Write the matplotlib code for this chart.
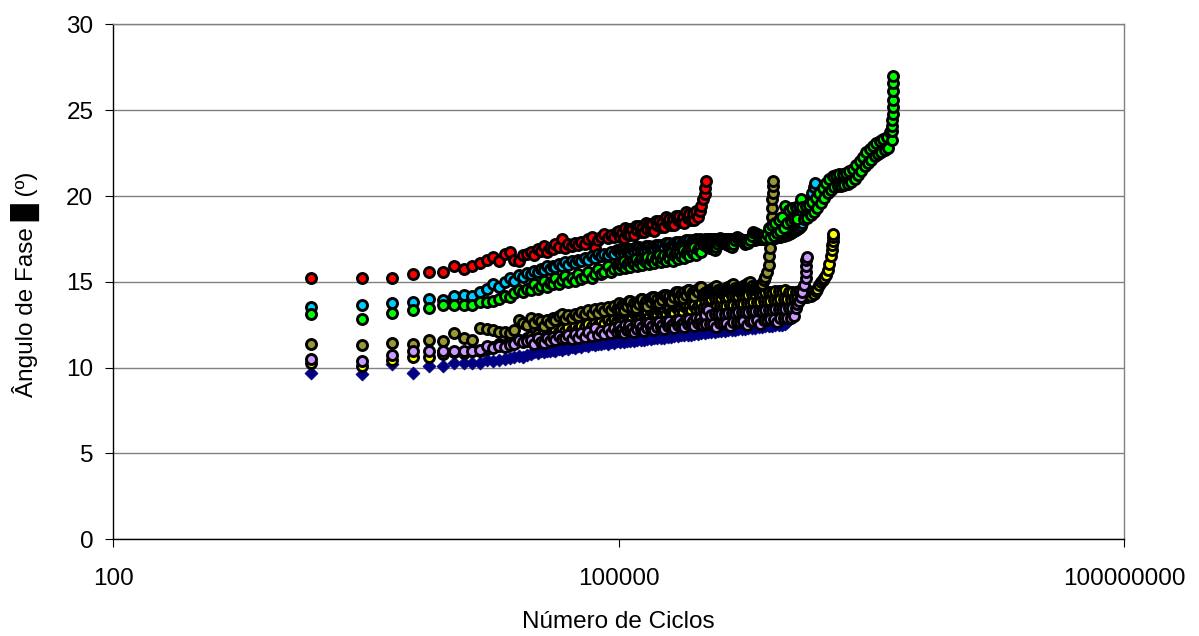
import matplotlib
matplotlib.use("Agg")
import matplotlib.pyplot as plt

plt.rcParams['font.family'] = ['Liberation Sans', 'DejaVu Sans']

# Cycle counts at which the phase angle was sampled (shared by all series)
cycles = [
    1500, 3000, 4500, 6000, 7500, 9000, 10500, 12000, 13500, 15000,
    16500, 18000, 19500, 21000, 22500, 24000, 25500, 27000, 28500,
    30000, 31500, 33000, 34500, 36000, 37500, 39000, 40500, 42000, 44000,
    46000, 48000, 50000, 52500, 55000, 57500, 60000, 63000, 66000, 69000,
    72000, 75000, 78000, 82000, 86000, 90000, 94000, 98000,
    100000, 102300, 104700, 107200, 109600, 112200, 114800, 117500, 120200, 123000,
    125900, 128800, 131800, 134900, 138000, 141300, 144500, 147900, 151400, 154900,
    158500, 162200, 166000, 169800, 173800, 177800, 182000, 186200, 190500, 195000,
    199500, 204200, 208900, 213800, 218800, 223900, 229100, 234400, 239900, 245500,
    251200, 257000, 263000, 269200, 275400, 281800, 288400, 295100, 302000, 309000,
    316200, 323600, 331100, 338800, 346700, 354800, 363100, 371500, 380200, 389000,
    398100, 407400, 416900, 426600, 436500, 446700, 457100, 467700, 478600, 489800,
    501200, 512900, 524800, 537000, 549500, 562300, 575400, 588800, 602600, 616600,
    631000, 645700, 660700, 676100, 691800, 707900, 724400, 741300, 758600, 776200,
    794300, 812800, 831800, 851100, 871000, 891300, 912000, 933300, 955000, 977200,
    1000000, 1023000, 1047000, 1072000, 1096000, 1122000, 1148000, 1175000, 1202000, 1230000,
    1259000, 1288000, 1318000, 1349000, 1380000, 1413000, 1445000, 1479000, 1514000, 1549000,
    1585000, 1622000, 1660000, 1698000, 1738000, 1778000, 1820000, 1862000, 1905000, 1950000,
    1995000, 2042000, 2089000, 2138000, 2188000, 2239000, 2291000, 2344000, 2399000, 2455000,
    2512000, 2570000, 2630000, 2692000, 2754000, 2818000, 2884000, 2951000, 3020000, 3090000,
    3162000, 3236000, 3311000, 3388000, 3467000, 3548000, 3631000, 3715000, 3802000, 3890000,
    3981000, 4074000, 4169000,
]

# Phase angle (degrees) per specimen, following the shared cycle grid
navy_phase = [
    9.7, 9.65, 10.2, 9.7, 10.1, 10.1, 10.25, 10.3, 10.25, 10.3,
    10.45, 10.4, 10.45, 10.5, 10.55, 10.6, 10.7, 10.65, 10.75,
    10.8, 10.9, 10.85, 10.95, 10.9, 11.0, 10.95, 11.05, 11.0, 11.1,
    11.05, 11.15, 11.1, 11.2, 11.15, 11.25, 11.2, 11.3, 11.25, 11.35,
    11.3, 11.4, 11.35, 11.45, 11.4, 11.5, 11.45, 11.55,
    11.63, 11.5, 11.61, 11.5, 11.67, 11.54, 11.65, 11.54, 11.71, 11.58,
    11.7, 11.59, 11.76, 11.63, 11.74, 11.63, 11.8, 11.67, 11.78, 11.67,
    11.84, 11.71, 11.82, 11.71, 11.88, 11.75, 11.86, 11.75, 11.92, 11.79,
    11.91, 11.8, 11.97, 11.84, 11.95, 11.84, 12.01, 11.88, 11.99, 11.88,
    12.05, 11.92, 12.03, 11.92, 12.09, 11.96, 12.07, 11.96, 12.13, 12.0,
    12.13, 12.03, 12.18, 12.05, 12.2, 12.07, 12.23, 12.09, 12.26, 12.11,
    12.26, 12.13, 12.28, 12.15, 12.3, 12.17, 12.32, 12.19, 12.34, 12.21,
    12.37, 12.24, 12.38, 12.26, 12.41, 12.28, 12.42, 12.3, 12.45, 12.32,
    12.47, 12.34, 12.49, 12.36, 12.51, 12.38, 12.53, 12.4, 12.55, 12.42,
    12.57, 12.44, 12.59, 12.46, 12.61, 12.48, 12.63, 12.5, 12.65, 12.52,
    12.68,
]

yellow_phase = [
    10.3, 10.1, 10.45, 10.65, 10.65, 10.8, 10.9, 10.85, 10.95, 10.95,
    11.1, 11.2, 11.35, 11.3, 11.5, 11.45, 11.6, 11.55, 11.7,
    11.85, 11.7, 11.95, 11.85, 12.05, 11.9, 12.1, 12.0, 12.2, 12.05,
    12.25, 12.15, 12.35, 12.2, 12.4, 12.25, 12.45, 12.35, 12.55, 12.4,
    12.6, 12.5, 12.7, 12.55, 12.75, 12.65, 12.85, 12.7,
    13.02, 12.82, 12.98, 12.8, 13.11, 13.1, 12.89, 13.06, 12.87, 13.19,
    13.17, 12.96, 13.12, 12.93, 13.24, 13.22, 13.01, 13.17, 12.98, 13.29,
    13.27, 13.07, 13.23, 13.05, 13.36, 13.35, 13.14, 13.31, 13.12, 13.44,
    13.42, 13.22, 13.38, 13.2, 13.51, 13.5, 13.29, 13.46, 13.27, 13.59,
    13.57, 13.37, 13.53, 13.35, 13.66, 13.65, 13.44, 13.61, 13.42, 13.74,
    13.45, 13.96, 13.47, 13.98, 13.5, 14.01, 13.52, 14.03, 13.54, 14.05,
    13.57, 14.08, 13.59, 14.1, 13.61, 14.12, 13.63, 14.15, 13.66, 14.17,
    13.68, 14.19, 13.7, 14.21, 13.73, 14.24, 13.75, 14.26, 13.77, 14.28,
    13.8, 14.31, 13.82, 14.33, 13.84, 14.35, 13.86, 14.38, 13.89, 14.4,
    13.91, 14.42, 13.93, 14.44, 13.96, 14.47, 13.98, 14.49, 14.0, 14.51,
    14.0, 14.4, 14.02, 14.42, 14.04, 14.43, 14.06, 14.44, 14.08, 14.45,
    14.1, 14.45, 14.12, 14.45, 14.15, 14.4, 14.3, 14.45, 14.6, 14.8,
    15.0, 15.1, 15.25, 15.4, 15.7, 16.05, 16.5,
]
yellow_end_cycles = [1840000, 1852000, 1862000, 1870000, 1876000]
yellow_end_phase = [16.85, 17.15, 17.4, 17.6, 17.8]

olive_phase = [
    11.4, 11.3, 11.45, 11.35, 11.6, 11.55, 12.0, 11.7, 11.6, 12.3,
    12.25, 12.2, 12.1, 12.05, 12.0, 12.2, 12.75, 12.6, 12.5,
    12.9, 12.6, 12.85, 12.7, 12.45, 12.8, 12.6, 12.9, 12.75, 13.0,
    13.1, 12.85, 13.05, 12.9, 13.15, 13.0, 13.25, 13.1, 13.35, 13.15,
    13.4, 13.2, 13.45, 13.3, 13.55, 13.35, 13.6, 13.4,
    13.75, 13.42, 13.63, 13.38, 13.73, 13.58, 13.86, 13.86, 13.52, 13.74,
    13.48, 13.84, 13.69, 13.98, 13.98, 13.65, 13.87, 13.62, 13.98, 13.83,
    14.12, 14.12, 13.79, 14.01, 13.76, 14.12, 13.97, 14.26, 14.26, 13.93,
    14.15, 13.9, 14.26, 14.11, 14.4, 14.4, 14.07, 14.29, 14.04, 14.4,
    14.25, 14.54, 14.54, 14.21, 14.43, 14.18, 14.54, 14.39, 14.68, 14.68,
    14.3, 14.36, 14.42, 14.48, 14.54, 14.6, 14.66, 14.72, 14.78, 14.55,
    14.4, 14.46, 14.52, 14.58, 14.64, 14.7, 14.76, 14.82, 14.88, 14.65,
    14.5, 14.56, 14.62, 14.68, 14.74, 14.8, 14.86, 14.92, 14.98, 14.75,
    14.6, 14.66, 14.72, 14.78, 14.84, 14.9, 15.1, 15.3, 15.6, 16.0,
]
olive_end_cycles = [785000, 792000, 798000, 803000, 808000, 812000,
                    816000, 820000, 823000, 825500]
olive_end_phase = [16.5, 17.0, 17.6, 18.2, 18.8, 19.3, 19.8, 20.2, 20.6, 20.9]

lavender_phase = [
    10.5, 10.4, 10.75, 10.95, 10.95, 11.0, 10.95, 10.95, 10.95, 11.05,
    11.25, 11.15, 11.25, 11.2, 11.3, 11.4, 11.6, 11.5, 11.55,
    11.6, 11.4, 11.7, 11.5, 11.45, 11.75, 11.55, 11.8, 11.6, 11.85,
    11.65, 11.7, 11.9, 11.65, 11.95, 11.7, 12.0, 11.8, 12.1, 11.85,
    12.3, 11.9, 12.15, 11.95, 12.25, 12.0, 12.3, 12.05,
    12.4, 12.11, 12.27, 12.03, 12.49, 12.2, 12.46, 12.17, 12.33, 12.09,
    12.55, 12.26, 12.52, 12.23, 12.39, 12.15, 12.61, 12.32, 12.58, 12.29,
    12.45, 12.21, 12.67, 12.38, 12.64, 12.35, 12.51, 12.27, 12.73, 12.44,
    12.7, 12.41, 12.57, 12.33, 12.79, 12.5, 12.76, 12.47, 12.63, 12.39,
    12.85, 12.56, 12.82, 12.53, 12.69, 12.45, 12.91, 12.62, 12.88, 12.59,
    12.5, 13.06, 12.52, 13.35, 12.53, 13.09, 12.55, 13.11, 12.36, 13.12,
    12.58, 13.14, 12.6, 13.15, 12.61, 13.17, 12.43, 13.19, 12.64, 13.2,
    12.66, 13.22, 12.68, 13.23, 12.69, 13.25, 12.5, 13.27, 12.72, 13.28,
    12.74, 13.3, 12.76, 13.31, 12.57, 13.33, 12.79, 13.35, 12.8, 13.36,
    12.82, 13.38, 12.84, 13.39, 12.65, 13.41, 12.87, 13.43, 12.88, 13.44,
    12.9, 13.46, 12.92, 13.47, 13.0, 13.5, 13.7, 13.9, 14.1, 14.4,
    14.8, 15.2,
]
lavender_end_cycles = [1294000, 1298000, 1302000, 1305000]
lavender_end_phase = [15.6, 15.95, 16.25, 16.45]

red_phase = [
    15.25, 15.25, 15.25, 15.45, 15.6, 15.6, 15.9, 15.75, 15.9, 16.1,
    16.3, 16.45, 16.2, 16.6, 16.75, 16.3, 16.2, 16.55, 16.6,
    16.75, 16.55, 16.9, 16.8, 17.1, 16.75, 17.0, 16.9, 17.2, 17.05,
    17.5, 17.0, 17.2, 17.1, 17.25, 17.15, 17.35, 17.2, 17.5, 17.6,
    16.95, 17.45, 17.6, 17.8, 17.55, 17.75, 17.6, 17.9,
    17.95, 17.6, 17.85, 17.55, 18.15, 17.8, 18.05, 17.7, 18.05, 17.7,
    18.25, 18.0, 18.25, 17.9, 18.15, 17.9, 18.45, 18.1, 18.35, 18.0,
    18.35, 17.95, 18.55, 18.3, 18.55, 18.2, 18.45, 18.2, 18.75, 18.4,
    18.65, 18.3, 18.65, 18.3, 18.85, 18.6, 18.85, 18.5, 18.75, 18.45,
    19.05, 18.7, 18.95, 18.6, 18.95, 18.6, 19.1, 18.8, 19.1, 19.4,
    19.8, 20.1,
]
red_end_cycles = [326000, 328500]
red_end_phase = [20.45, 20.85]

cyan_phase = [
    13.55, 13.65, 13.75, 13.8, 14.0, 13.95, 14.2, 14.25, 14.2, 14.4,
    14.6, 14.9, 14.7, 15.0, 15.2, 15.05, 15.4, 15.3, 15.5,
    15.45, 15.65, 15.55, 15.75, 15.7, 15.9, 15.75, 15.95, 15.85, 16.05,
    15.95, 16.15, 16.0, 16.2, 16.1, 16.3, 16.2, 16.4, 16.3, 16.5,
    16.4, 16.6, 16.5, 16.65, 16.55, 16.75, 16.65, 16.85,
    16.85, 16.67, 16.83, 16.68, 16.93, 16.8, 16.94, 16.76, 16.92, 16.77,
    17.02, 16.88, 17.02, 16.83, 16.99, 16.83, 17.08, 16.94, 17.08, 16.89,
    17.05, 16.9, 17.15, 17.02, 17.16, 16.98, 17.14, 16.99, 17.24, 17.11,
    17.25, 17.07, 17.23, 17.08, 17.33, 17.2, 17.34, 17.16, 17.32, 17.17,
    17.42, 17.29, 17.43, 17.25, 17.41, 17.26, 17.51, 17.38, 17.52, 17.34,
    17.45, 17.47, 17.46, 17.49, 17.48, 17.5, 17.49, 17.52, 17.5, 17.51,
    17.53, 17.5, 17.52, 17.49, 17.51, 17.48, 17.5, 17.47, 17.49, 17.46,
    17.48, 17.45, 17.47, 17.44, 17.46, 17.2, 17.45, 17.43, 17.46, 17.44,
    17.47, 17.45, 17.48, 17.47, 17.5, 17.49, 17.52, 17.51, 17.54, 17.53,
    17.56, 17.55, 17.58, 17.57, 17.6, 17.62, 17.64, 17.66, 17.68, 17.7,
    17.75, 17.8, 17.85, 17.9, 17.95, 18.0, 18.07, 18.15, 18.28, 18.4,
    18.7, 19.0, 19.3, 19.6, 19.9, 20.2, 20.5,
]
cyan_end_cycles = [1466000]
cyan_end_phase = [20.75]

green_phase = [
    13.1, 12.85, 13.2, 13.35, 13.5, 13.65, 13.65, 13.65, 13.65, 13.85,
    13.8, 13.9, 14.0, 14.2, 14.1, 14.35, 14.5, 14.4, 14.6,
    14.55, 14.9, 14.6, 14.75, 15.05, 14.7, 14.95, 14.85, 15.2, 14.9,
    15.1, 15.35, 15.0, 15.2, 15.05, 15.45, 15.15, 15.3, 15.6, 15.25,
    15.45, 15.75, 15.45, 15.6, 15.9, 15.55, 15.75, 16.0,
    15.75, 16.03, 15.9, 16.19, 15.78, 16.05, 16.18, 15.89, 16.18, 16.04,
    16.33, 15.92, 16.18, 16.31, 16.0, 16.29, 16.15, 16.43, 16.02, 16.28,
    16.43, 16.11, 16.41, 16.26, 16.56, 16.13, 16.41, 16.55, 16.22, 16.54,
    16.38, 16.7, 16.24, 16.54, 16.68, 16.35, 16.67, 16.52, 16.84, 16.38,
    16.68, 16.83, 16.51, 16.84, 16.7, 17.03, 16.58, 16.89, 17.04, 16.72,
    17.2, 17.15, 17.09, 17.05, 17.0, 16.96, 16.92, 16.88, 17.04, 17.23,
    17.4, 17.34, 17.29, 17.24, 17.19, 17.15, 17.1, 17.05, 17.21, 17.42,
    17.6, 17.54, 17.48, 17.43, 17.38, 17.34, 17.29, 17.24, 17.43, 17.68,
    17.9, 17.85, 17.78, 17.74, 17.69, 17.65, 17.6, 17.56, 17.8, 18.12,
    17.55, 18.31, 17.67, 18.44, 17.82, 18.6, 17.98, 18.76, 18.14, 19.4,
    18.42, 19.2, 18.57, 19.32, 18.66, 19.38, 18.69, 19.39, 19.8, 19.38,
    18.68, 19.4, 18.74, 19.5, 18.87, 19.66, 19.06, 19.88, 19.32, 20.16,
    19.6, 20.45, 19.9, 20.74, 20.16, 20.97, 20.36, 21.14, 20.5, 21.25,
    20.58, 21.29, 20.6, 21.31, 20.63, 21.35, 20.68, 21.44, 20.8, 21.59,
    20.98, 21.79, 21.21, 22.03, 21.46, 22.29, 21.72, 22.54, 21.94, 22.73,
    22.1, 22.91, 22.31, 23.09, 22.46, 23.22, 22.57, 23.33, 22.69, 23.45,
    22.78, 23.71, 23.25,
]
green_end_cycles = [4190000, 4205000, 4218000, 4230000, 4240000, 4248000,
                    4254000, 4259000, 4263000]
green_end_phase = [23.8, 24.1, 24.4, 24.8, 25.2, 25.6, 26.1, 26.6, 27.0]

x_ticks = [100, 100000, 100000000]
x_tick_labels = ["100", "100000", "100000000"]
y_ticks = [0, 5, 10, 15, 20, 25, 30]

fig = plt.figure(figsize=(11.99, 6.36), dpi=100)
ax = fig.add_axes([0.0945, 0.1520, 0.8430, 0.8097])

circle_style = dict(marker='o', s=52, edgecolors='black', linewidths=2.1)

# Navy diamonds first, circle series drawn on top in order
ax.scatter(cycles[:len(navy_phase)], navy_phase, marker='D', s=44,
           color='#000080', edgecolors='#000080', linewidths=0.5, zorder=3)

series = [
    (yellow_phase, yellow_end_cycles, yellow_end_phase, '#FFFF00'),
    (olive_phase, olive_end_cycles, olive_end_phase, '#999933'),
    (lavender_phase, lavender_end_cycles, lavender_end_phase, '#CC99FF'),
    (red_phase, red_end_cycles, red_end_phase, '#FF0000'),
    (cyan_phase, cyan_end_cycles, cyan_end_phase, '#00CCFF'),
    (green_phase, green_end_cycles, green_end_phase, '#00FF00'),
]
for vals, end_c, end_v, col in series:
    xs = cycles[:len(vals)] + end_c
    ys = vals + end_v
    ax.scatter(xs, ys, facecolors=col, zorder=3, **circle_style)

ax.set_xscale('log')
ax.set_xlim(100, 100000000)
ax.set_ylim(0, 30)
ax.set_xticks(x_ticks, x_tick_labels)
ax.xaxis.set_minor_locator(plt.NullLocator())
ax.set_yticks(y_ticks)

ax.yaxis.grid(True, color='#808080', linewidth=1.0)
ax.set_axisbelow(True)
for side in ('left', 'bottom'):
    ax.spines[side].set_color('black')
    ax.spines[side].set_linewidth(1.0)
for side in ('top', 'right'):
    ax.spines[side].set_color('#808080')
    ax.spines[side].set_linewidth(1.0)

ax.tick_params(axis='both', direction='out', length=5.8, width=0.8,
               color='black', labelsize=17.5, labelcolor='black')
ax.tick_params(axis='x', pad=15)
ax.tick_params(axis='y', pad=8.6)

ax.set_xlabel("Número de Ciclos", fontsize=17.5, va='center')
ax.xaxis.set_label_coords(0.5, -0.1606)
ax.set_ylabel("Ângulo de Fase █ (º)", fontsize=17.5, va='center')
ax.yaxis.set_label_coords(-0.0874, 0.4957)

fig.savefig("out.png", dpi=100, facecolor='white')
